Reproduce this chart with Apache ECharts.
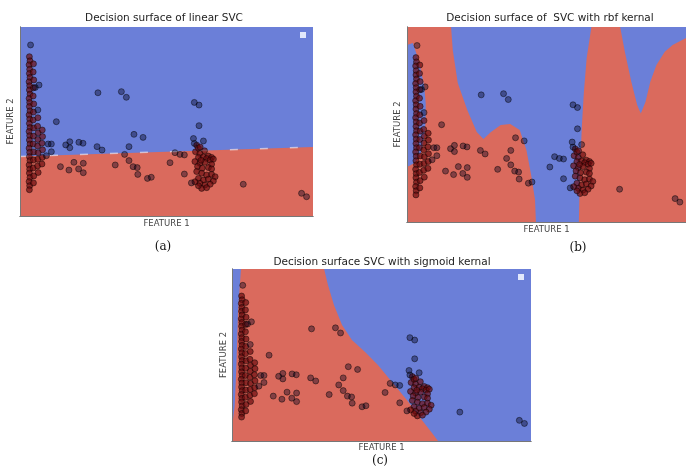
<!DOCTYPE html>
<html><head><meta charset="utf-8">
<script src="https://cdn.jsdelivr.net/npm/echarts@6/dist/echarts.min.js"></script>
<style>html,body{margin:0;padding:0;background:#fff}#c{width:686px;height:472px}</style>
</head><body><div id="c"></div>
<script>
// ---------- DATA ----------
const panelTitles = ['Decision surface of linear SVC', 'Decision surface of  SVC with rbf kernal', 'Decision surface SVC with sigmoid kernal'];
const panelLetters = ['(a)', '(b)', '(c)'];
const xAxisName = 'FEATURE 1';
const yAxisName = 'FEATURE 2';

// dense column + right cluster (class 1)
const class1Points = [
  [3.2,84.3],[3.4,82.1],[3.1,80.0],[3.3,77.6],[3.2,75.4],[3.4,73.3],[3.1,71.0],[3.3,68.9],[3.2,66.7],[3.4,64.5],
  [3.1,62.2],[3.3,60.1],[3.2,57.9],[3.4,55.6],[3.1,53.5],[3.3,51.3],[3.2,49.0],[3.4,46.8],[3.1,44.7],[3.3,42.5],
  [3.2,40.2],[3.4,38.1],[3.1,35.9],[3.3,33.7],[3.2,31.4],[3.4,29.3],[3.1,27.0],[3.3,24.8],[3.2,22.7],[3.4,20.4],
  [3.1,18.2],[3.3,16.0],[3.2,13.9],
  [4.6,80.5],[4.5,76.2],[4.7,72.0],[4.6,67.8],[4.5,63.5],[4.7,59.3],[4.6,55.0],[4.5,50.8],[4.7,46.6],[4.6,42.3],
  [4.5,38.1],[4.7,33.9],[4.6,29.6],[4.5,25.4],[4.7,21.2],[4.6,17.5],
  [6.1,52.0],[6.0,47.5],[6.2,44.0],[6.1,40.5],[6.0,37.0],[6.2,33.5],[6.1,30.0],[6.0,26.5],[6.2,23.0],
  [7.6,45.5],[7.7,42.0],[7.5,38.5],[7.7,35.0],[7.6,31.0],[7.5,27.5],
  [59.9,34.0],[60.3,37.5],[60.9,35.8],[61.4,33.1],[60.9,31.0],[62.6,31.3],[64.3,31.7],[65.4,31.0],[63.7,30.4],[64.9,29.6],
  [66.0,30.1],[59.7,28.8],[61.4,27.9],[63.1,28.4],[65.4,27.4],[60.6,26.2],[62.2,25.3],[64.3,25.6],[65.4,24.9],[60.3,23.5],
  [62.0,22.6],[63.7,21.7],[65.4,22.0],[66.6,20.8],[60.9,19.9],[62.6,19.0],[64.3,19.5],[66.0,18.5],[61.4,17.3],[63.1,16.4],
  [64.9,16.8],[62.0,14.6],[63.7,15.0],[60.9,16.0],[59.7,18.1],[61.8,29.5],[63.0,34.5],[61.5,36.5]
];
// scattered points (class 0)
const class0Points = [
  [3.6,90.5],[6.5,69.3],[5.2,68.0],[6.1,56.1],[12.4,49.9],[26.6,65.2],[34.6,65.8],[36.3,62.8],[38.9,43.2],[42.0,41.6],
  [37.2,36.7],[35.7,32.6],[9.6,38.1],[10.7,38.1],[10.7,34.0],[9.0,31.9],[15.6,37.6],[17.0,39.3],[17.0,36.1],[20.1,39.0],
  [21.5,38.5],[26.3,36.7],[28.0,34.9],[13.8,26.1],[18.4,28.4],[16.7,24.3],[21.6,27.9],[20.0,24.9],[21.6,22.9],[32.5,27.0],
  [37.2,29.3],[38.6,26.1],[40.0,25.6],[40.2,22.0],[43.5,19.9],[44.8,20.5],[51.2,28.2],[52.9,33.5],[54.6,32.6],[56.1,32.3],
  [56.1,22.2],[58.5,17.5],[59.5,60.1],[61.1,58.7],[61.1,47.8],[59.2,41.0],[59.5,38.4],[62.6,39.7],[76.2,16.8],[96.1,12.0],
  [97.8,10.2]
];

// decision regions (feature space, 0..100)
const linearBoundary = [[0,31.5],[100,36.5]];
const linearRedRegion = [[0,0],[0,31.5],[100,36.5],[100,0]];
const rbfRedLeft = [[0,100],[15.8,100],[16.4,88.2],[18.2,71.3],[21.6,57.4],[25.0,46.2],[27.4,42.6],[30.1,46.2],[33.6,49.7],
  [37.0,50.3],[40.4,47.2],[42.8,36.9],[44.5,24.1],[45.9,11.3],[46.2,0],[0,0]];
const rbfBlueLeft = [[0,90.8],[2.1,91.8],[3.3,86.7],[5.0,77.9],[6.2,69.2],[6.7,61.0],[6.7,52.3],[6.2,43.6],[5.0,35.4],[2.7,30.3],[0,28.2]];
const rbfRedRight = [[66.1,100],[76.4,100],[78.1,87.2],[80.4,71.9],[82.5,60.0],[83.8,55.7],[85.5,61.7],[87.2,71.9],[89.4,80.5],
  [92.4,87.3],[95.2,90.8],[100,94.4],[100,0],[61.6,0],[62.0,26.7],[62.7,49.7],[63.4,66.7],[64.4,84.1]];
const sigmoidRedRegion = [[3.0,100],[30.8,100],[32.1,90.7],[34.1,79.1],[36.8,67.4],[40.1,58.7],[44.5,51.7],[48.8,44.2],[53.5,34.3],
  [58.5,23.8],[63.5,12.2],[66.9,4.7],[68.9,0],[0,0],[0,8],[0.9,20],[1.5,45],[2.0,75]];

// ---------- STYLE / LAYOUT ----------
const BLUE = '#6b7fd8', RED = '#da6a5d';
const grids = [
  {left:20, top:27, width:293, height:189},
  {left:407, top:27, width:292, height:195},
  {left:232, top:269, width:299, height:172}
];
const titlePos = [[164,18],[550,18],[382,262]];
const letterPos = [[163,247],[578,248],[380,461]];
const nameGaps = [[3,5],[3,5],[2,4]];
const regions = [
  [[linearRedRegion, RED]],
  [[rbfRedLeft, RED],[rbfBlueLeft, BLUE],[rbfRedRight, RED]],
  [[sigmoidRedRegion, RED]]
];

const xAxes = [], yAxes = [], series = [], graphics = [];
const lineCol = '#777';
grids.forEach((g, i) => {
  const base = {type:'value', min:0, max:100, gridIndex:i, z:10,
    axisTick:{show:false}, axisLabel:{show:false}, splitLine:{show:false},
    axisLine:{show:true, lineStyle:{color:lineCol, width:1}}};
  xAxes.push(Object.assign({}, base, {position:'bottom', name:xAxisName, nameLocation:'middle', nameGap:nameGaps[i][0],
    nameTextStyle:{fontFamily:'DejaVu Sans', fontSize:8.5, color:'#444', verticalAlign:'top'}}));
  xAxes.push(Object.assign({}, base, {position:'top'}));
  yAxes.push(Object.assign({}, base, {position:'left', name:yAxisName, nameLocation:'middle', nameGap:nameGaps[i][1],
    nameTextStyle:{fontFamily:'DejaVu Sans', fontSize:8.5, color:'#444', verticalAlign:'bottom'}}));
  yAxes.push(Object.assign({}, base, {position:'right'}));
  regions[i].forEach(([poly, col]) => {
    series.push({type:'custom', xAxisIndex:2*i, yAxisIndex:2*i, clip:true, silent:true, z:1,
      data:[poly[0]],
      renderItem:(params, api) => ({type:'polygon', shape:{points: poly.map(p => api.coord(p))}, style:{fill:col}})
    });
  });
  if (i === 0) {
    series.push({type:'line', xAxisIndex:0, yAxisIndex:0, data:linearBoundary, symbol:'none', silent:true, z:2,
      lineStyle:{color:'rgba(255,255,255,0.55)', width:1.5, type:[8,22]}});
  }
  series.push({type:'scatter', xAxisIndex:2*i, yAxisIndex:2*i, data:class1Points, symbolSize:6, z:3, silent:true,
    itemStyle:{color:'rgba(105,12,14,0.85)', borderColor:'rgba(0,0,0,0.7)', borderWidth:0.8}});
  series.push({type:'scatter', xAxisIndex:2*i, yAxisIndex:2*i, data:class0Points, symbolSize:6, z:3, silent:true,
    itemStyle:{color:'rgba(0,0,30,0.5)', borderColor:'rgba(0,0,0,0.7)', borderWidth:0.8}});
  graphics.push({type:'text', x:titlePos[i][0], y:titlePos[i][1], style:{text:panelTitles[i], fill:'#222',
    font:'10.5px "DejaVu Sans"', align:'center', verticalAlign:'middle'}});
  graphics.push({type:'text', x:letterPos[i][0], y:letterPos[i][1], style:{text:panelLetters[i], fill:'#111',
    font:'12px "DejaVu Serif"', align:'center', verticalAlign:'middle'}});
  graphics.push({type:'rect', x:g.left + g.width - 13, y:g.top + 5, shape:{width:6, height:6}, style:{fill:'rgba(240,244,255,0.9)'}});
});

const chart = echarts.init(document.getElementById('c'), null, {renderer:'canvas'});
chart.setOption({
  animation:false,
  backgroundColor:'#fff',
  grid: grids.map(g => Object.assign({show:true, backgroundColor:BLUE, borderWidth:0, containLabel:false}, g)),
  xAxis:xAxes, yAxis:yAxes, series:series, graphic:graphics
});
</script></body></html>
